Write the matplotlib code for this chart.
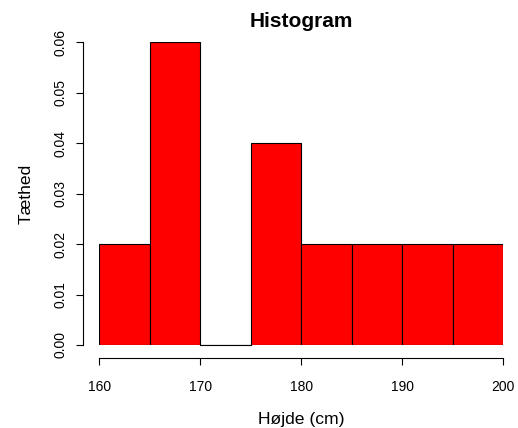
import matplotlib
matplotlib.use("Agg")
import matplotlib.pyplot as plt
import numpy as np

plt.rcParams["font.family"] = ["Liberation Sans", "DejaVu Sans"]

# histogram breaks and densities
breaks = [160, 165, 170, 175, 180, 185, 190, 195, 200]
density = [0.02, 0.06, 0.00, 0.04, 0.02, 0.02, 0.02, 0.02]
x_ticks = [160, 170, 180, 190, 200]
y_ticks = [0.00, 0.01, 0.02, 0.03, 0.04, 0.05, 0.06]

W, H = 518, 428
fig = plt.figure(figsize=(W / 100, H / 100), dpi=100)
left, right, top, bottom = 99.3, 503.3, 42.3, 345.0
ax = fig.add_axes([left / W, 1 - bottom / H, (right - left) / W, (bottom - top) / H])

edges = np.array(breaks)
ax.bar(edges[:-1], density, width=np.diff(edges), align="edge",
       color="#ff0000", edgecolor="black", linewidth=0.8)
ax.plot([170, 175], [0, 0], color="black", linewidth=0.8, clip_on=False)

ax.set_xlim(breaks[0], breaks[-1])
ax.set_ylim(0, 0.06)

for s in ["top", "right"]:
    ax.spines[s].set_visible(False)
ax.spines["left"].set_position(("outward", 11.7))
ax.spines["bottom"].set_position(("outward", 9.1))
ax.spines["left"].set_bounds(0, 0.06)
ax.spines["bottom"].set_bounds(160, 200)
for s in ["left", "bottom"]:
    ax.spines[s].set_linewidth(0.8)

ax.set_xticks(x_ticks)
ax.set_xticklabels([str(t) for t in x_ticks])
ax.set_yticks(y_ticks)
ax.set_yticklabels([f"{t:.2f}" for t in y_ticks], rotation=90, va="center")
ax.tick_params(length=5, width=0.8, labelsize=10)
ax.tick_params(axis="x", pad=11)
ax.tick_params(axis="y", pad=6)

ax.set_xlabel("Højde (cm)", fontsize=12.6, labelpad=13)
ax.set_ylabel("Tæthed", fontsize=12.6, labelpad=14.5)
ax.set_title("Histogram", fontsize=15, weight="bold", pad=11)

fig.savefig("out.png", dpi=100, facecolor="white")
